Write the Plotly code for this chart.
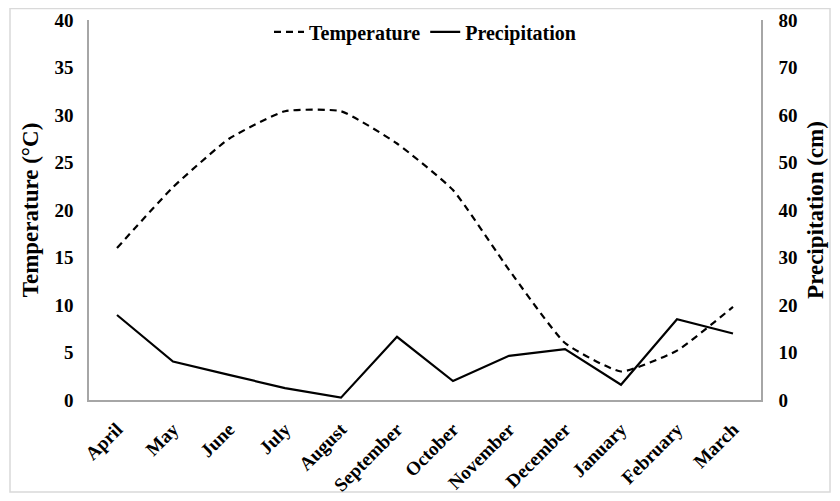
import plotly.graph_objects as go

months = ["April", "May", "June", "July", "August", "September", "October",
          "November", "December", "January", "February", "March"]
temperature = [16.0, 22.4, 27.5, 30.4, 30.4, 27.0, 22.1, 13.7, 6.0, 3.0, 5.2, 9.8]
precipitation = [17.9, 8.1, 5.3, 2.5, 0.5, 13.3, 4.0, 9.3, 10.7, 3.2, 17.0, 14.0]

font_family = "Liberation Serif"

fig = go.Figure()
fig.add_trace(go.Scatter(
    x=months, y=temperature, name="Temperature", mode="lines",
    line=dict(color="black", width=2.2, dash="7px,5px", shape="spline", smoothing=0.45),
    yaxis="y"))
fig.add_trace(go.Scatter(
    x=months, y=precipitation, name="Precipitation", mode="lines",
    line=dict(color="black", width=2.2), yaxis="y2"))

# page body has an 8px margin, so the figure is laid out 8px smaller
W, H = 832, 493
l, r, t, b = 81, 79, 12, 101
pw, ph = W - l - r, H - t - b

fig.update_layout(
    width=W, height=H,
    margin=dict(l=l, r=r, t=t, b=b, autoexpand=False),
    paper_bgcolor="white", plot_bgcolor="white",
    font=dict(family=font_family, color="black"),
    showlegend=True,
    legend=dict(orientation="h", x=0.5, xanchor="center", y=1.02, yanchor="top",
                font=dict(size=20, family=font_family, weight="bold"),
                bgcolor="rgba(0,0,0,0)", itemwidth=30, tracegroupgap=0),
    xaxis=dict(
        showline=True, linecolor="#a6a6a6", linewidth=1.5, mirror=False,
        showgrid=False, tickangle=-45, ticks="", automargin=False,
        ticklabelstandoff=9,
        tickfont=dict(size=19, family=font_family, weight="bold"),
        range=[-0.5, 11.5]),
    yaxis=dict(
        range=[0, 40], dtick=5, showgrid=False, showline=True,
        linecolor="#a6a6a6", linewidth=1.5, ticks="", ticklabelstandoff=10,
        zeroline=False, automargin=False,
        tickfont=dict(size=19, family=font_family, weight="bold"),
        title=dict(text="Temperature (°C)", standoff=9,
                   font=dict(size=23, family=font_family, weight="bold"))),
    yaxis2=dict(
        range=[0, 80], dtick=10, overlaying="y", side="right", showgrid=False,
        showline=True, linecolor="#a6a6a6", linewidth=1.5, ticks="",
        ticklabelstandoff=12, zeroline=False, automargin=False,
        tickfont=dict(size=19, family=font_family, weight="bold"),
        title=dict(text="Precipitation (cm)", standoff=10,
                   font=dict(size=23, family=font_family, weight="bold"))),
)

fig.add_shape(type="rect", xref="paper", yref="paper",
              x0=(2 - l) / pw, x1=(822 - l) / pw,
              y0=(H - b - 484) / ph, y1=(H - b - 0.5) / ph,
              line=dict(color="#d9d9d9", width=1.5), fillcolor="rgba(0,0,0,0)",
              layer="below")

fig.write_html("out.html")
